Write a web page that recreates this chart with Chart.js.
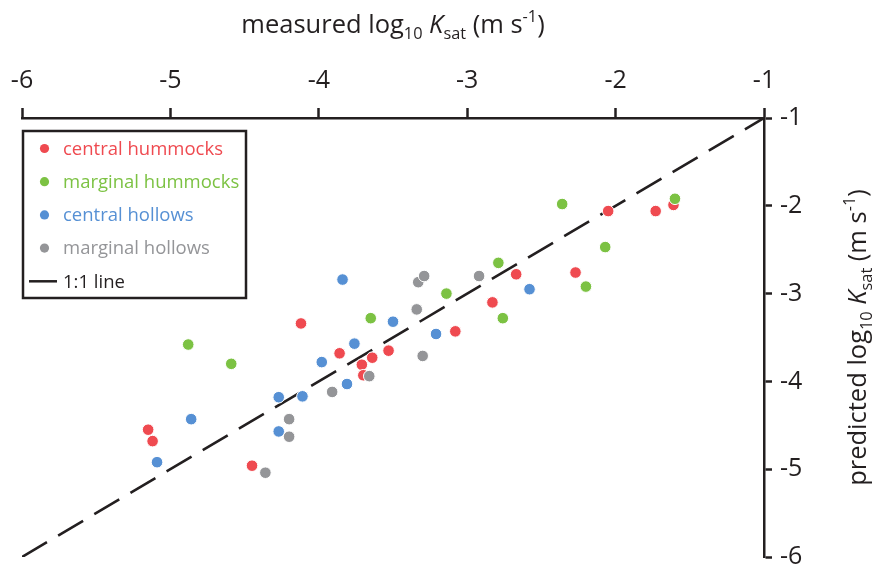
<!DOCTYPE html>
<html>
<head>
<meta charset="utf-8">
<script src="https://cdn.jsdelivr.net/npm/chart.js@4"></script>
<style>
  body { margin: 0; background: #fff; }
  canvas { display: block; }
</style>
</head>
<body>
<canvas id="ksat-chart" width="873" height="567"></canvas>
<script>
// measured (x) vs predicted (y) log10 Ksat
const centralHummocksX = [-5.15, -5.12, -4.12, -4.45, -3.86, -3.71, -3.70, -3.64, -3.53, -3.08, -2.83, -2.67, -2.27, -2.05, -1.73, -1.61];
const centralHummocksY = [-4.55, -4.68, -3.34, -4.96, -3.68, -3.81, -3.93, -3.73, -3.65, -3.43, -3.10, -2.78, -2.76, -2.06, -2.06, -1.99];

const marginalHummocksX = [-4.88, -4.59, -3.65, -3.14, -2.76, -2.79, -2.36, -2.07, -2.20, -1.60];
const marginalHummocksY = [-3.58, -3.80, -3.28, -3.00, -3.28, -2.65, -1.98, -2.47, -2.92, -1.92];

const centralHollowsX = [-5.09, -4.86, -4.27, -4.27, -4.11, -3.98, -3.84, -3.81, -3.76, -3.50, -3.21, -2.58];
const centralHollowsY = [-4.92, -4.43, -4.18, -4.57, -4.17, -3.78, -2.84, -4.03, -3.57, -3.32, -3.46, -2.95];

const marginalHollowsX = [-4.36, -4.20, -4.20, -3.91, -3.66, -3.30, -3.34, -3.33, -3.29, -2.92];
const marginalHollowsY = [-5.04, -4.43, -4.63, -4.12, -3.94, -3.71, -3.18, -2.87, -2.80, -2.80];

const oneToOneX = [-6, -1];
const oneToOneY = [-6, -1];

const axisMin = -6;
const axisMax = -1;

const FONT = '"Open Sans", sans-serif';
const INK = '#231f20';

function toPoints(xs, ys) {
    return xs.map((x, i) => ({ x: x, y: ys[i] }));
}

function scatterSet(label, xs, ys, color, order) {
    return {
        type: 'scatter',
        label: label,
        data: toPoints(xs, ys),
        backgroundColor: color,
        borderColor: '#ffffff',
        borderWidth: 1,
        pointRadius: 5.8,
        order: order
    };
}

// draws a string made of runs (normal / sub / sup / italic) starting at x, baseline 0
function drawRuns(ctx, runs, size, x) {
    runs.forEach(run => {
        let s = size;
        let dy = 0;
        if (run.sub) { s = size * 0.64; dy = size * 0.24; }
        if (run.sup) { s = size * 0.64; dy = -size * 0.42; }
        ctx.font = (run.italic ? 'italic ' : '') + s + 'px ' + FONT;
        ctx.fillText(run.t, x, dy);
        x += ctx.measureText(run.t).width;
    });
    return x;
}

function runsWidth(ctx, runs, size) {
    let w = 0;
    runs.forEach(run => {
        const s = (run.sub || run.sup) ? size * 0.64 : size;
        ctx.font = (run.italic ? 'italic ' : '') + s + 'px ' + FONT;
        w += ctx.measureText(run.t).width;
    });
    return w;
}

function titleRuns(word) {
    return [
        { t: word + ' log' },
        { t: '10', sub: true },
        { t: ' ' },
        { t: 'K', italic: true },
        { t: 'sat', sub: true },
        { t: ' (m s' },
        { t: '-1', sup: true },
        { t: ')' }
    ];
}

const figurePlugin = {
    id: 'figureExtras',
    afterDraw(chart) {
        const ctx = chart.ctx;
        const area = chart.chartArea;
        const titleSize = 25.5;

        ctx.save();
        ctx.fillStyle = INK;
        ctx.textBaseline = 'alphabetic';
        ctx.textAlign = 'left';

        // top axis title
        const xr = titleRuns('measured');
        const xw = runsWidth(ctx, xr, titleSize);
        ctx.save();
        ctx.translate((area.left + area.right) / 2 - xw / 2, 33);
        drawRuns(ctx, xr, titleSize, 0);
        ctx.restore();

        // right axis title (rotated)
        const yr = titleRuns('predicted');
        const yw = runsWidth(ctx, yr, titleSize);
        ctx.save();
        ctx.translate(866, (area.top + area.bottom) / 2);
        ctx.rotate(-Math.PI / 2);
        ctx.translate(-yw / 2, 0);
        drawRuns(ctx, yr, titleSize, 0);
        ctx.restore();

        // legend box
        const bx = 23, by = 131, bw = 223, bh = 167;
        ctx.lineWidth = 2.5;
        ctx.strokeStyle = INK;
        ctx.strokeRect(bx, by, bw, bh);

        const rowY0 = 148.5, rowStep = 33.2;
        ctx.textBaseline = 'middle';
        ctx.font = '18.5px ' + FONT;
        chart.data.datasets.forEach((ds, i) => {
            const y = rowY0 + i * rowStep;
            if (ds.type === 'scatter') {
                ctx.fillStyle = ds.backgroundColor;
                ctx.beginPath();
                ctx.arc(44.5, y, 4.6, 0, Math.PI * 2);
                ctx.fill();
                ctx.fillText(ds.label, 63, y + 1);
            } else {
                ctx.strokeStyle = INK;
                ctx.lineWidth = 2.5;
                ctx.beginPath();
                ctx.moveTo(29, y);
                ctx.lineTo(57, y);
                ctx.stroke();
                ctx.fillStyle = INK;
                ctx.fillText(ds.label, 63, y + 1);
            }
        });
        ctx.restore();
    }
};

const ctx = document.getElementById('ksat-chart').getContext('2d');
new Chart(ctx, {
    data: {
        datasets: [
            scatterSet('central hummocks', centralHummocksX, centralHummocksY, '#ef4a50', 4),
            scatterSet('marginal hummocks', marginalHummocksX, marginalHummocksY, '#7cc243', 3),
            scatterSet('central hollows', centralHollowsX, centralHollowsY, '#5690d4', 2),
            scatterSet('marginal hollows', marginalHollowsX, marginalHollowsY, '#949598', 1),
            {
                type: 'line',
                label: '1:1 line',
                data: toPoints(oneToOneX, oneToOneY),
                borderColor: INK,
                borderWidth: 2.6,
                borderDash: [29, 13],
                pointRadius: 0,
                fill: false,
                order: 5
            }
        ]
    },
    options: {
        responsive: false,
        animation: false,
        layout: { padding: { left: 22, right: 0, top: 0, bottom: 10 } },
        plugins: {
            legend: { display: false },
            tooltip: { enabled: false }
        },
        scales: {
            x: {
                type: 'linear',
                position: 'top',
                min: axisMin,
                max: axisMax,
                ticks: {
                    stepSize: 1,
                    color: INK,
                    padding: 12,
                    maxRotation: 0,
                    font: { family: FONT, size: 25 }
                },
                grid: {
                    drawOnChartArea: false,
                    drawTicks: true,
                    tickLength: 10,
                    tickWidth: 2.5,
                    tickColor: INK
                },
                border: { display: true, color: INK, width: 2.5 },
                afterFit(scale) {
                    scale.height = 118;
                    scale.paddingLeft = 0;
                    scale.paddingRight = 0;
                }
            },
            y: {
                type: 'linear',
                position: 'right',
                min: axisMin,
                max: axisMax,
                ticks: {
                    stepSize: 1,
                    color: INK,
                    padding: 8,
                    font: { family: FONT, size: 25 }
                },
                grid: {
                    drawOnChartArea: false,
                    drawTicks: true,
                    tickLength: 8,
                    tickWidth: 2.5,
                    tickColor: INK
                },
                border: { display: true, color: INK, width: 2.5 },
                afterFit(scale) {
                    scale.width = 109;
                    scale.paddingTop = 0;
                    scale.paddingBottom = 0;
                }
            }
        }
    },
    plugins: [figurePlugin]
});
</script>
</body>
</html>
